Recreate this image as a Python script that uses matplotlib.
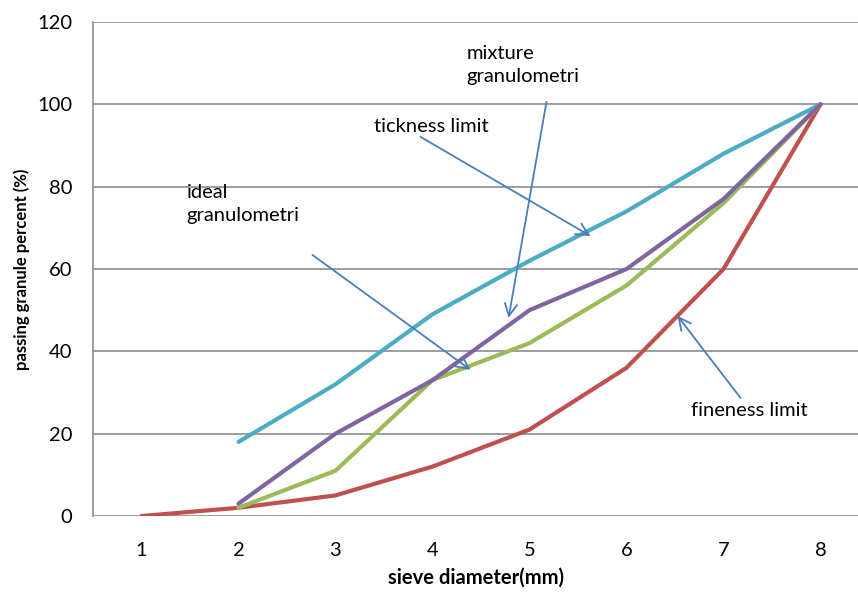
import matplotlib
matplotlib.use("Agg")
import matplotlib.pyplot as plt

plt.rcParams['font.family'] = ['Lato', 'DejaVu Sans']

# diámetro del tamiz (categorías del eje x)
sieve = [1, 2, 3, 4, 5, 6, 7, 8]

# curvas granulométricas (% que pasa)
fineness_x = [1, 2, 3, 4, 5, 6, 7, 8]
fineness = [0, 2, 5, 12, 21, 36, 60, 100]
ideal_x = [2, 3, 4, 5, 6, 7, 8]
ideal = [2, 11, 33, 42, 56, 76, 100]
mixture_x = [2, 3, 4, 5, 6, 7, 8]
mixture = [3, 20, 33, 50, 60, 77, 100]
thickness_x = [2, 3, 4, 5, 6, 7, 8]
thickness = [18, 32, 49, 62, 74, 88, 100]

yticks = [0, 20, 40, 60, 80, 100, 120]

fig = plt.figure(figsize=(8.58, 5.92), dpi=100)
ax = fig.add_axes([93 / 858, 1 - 516 / 592, (858 - 93) / 858, (516 - 22) / 592])

ax.plot(thickness_x, thickness, color='#4BACC6', lw=3, solid_capstyle='round', zorder=3)
ax.plot(fineness_x, fineness, color='#C0504D', lw=3, solid_capstyle='round', zorder=3)
ax.plot(ideal_x, ideal, color='#9BBB59', lw=3, solid_capstyle='round', zorder=3)
ax.plot(mixture_x, mixture, color='#8064A2', lw=3, solid_capstyle='round', zorder=4)

ax.set_xlim(0.5, 0.5 + (858 - 93) / 97)
ax.set_ylim(0, 120)
ax.set_xticks(sieve)
ax.set_yticks(yticks)
ax.tick_params(length=0, labelsize=14.5)
ax.tick_params(axis='y', pad=15)
ax.tick_params(axis='x', pad=19)
ax.grid(axis='y', color='#8c8c8c', lw=1.2)
ax.set_axisbelow(True)
for s in ['top', 'right', 'bottom']:
    ax.spines[s].set_visible(False)
ax.spines['left'].set_color('#8c8c8c')
ax.spines['left'].set_linewidth(1.2)

ax.set_xlabel('sieve diameter(mm)', fontsize=14.5, fontweight='bold', labelpad=6)
ax.set_ylabel('passing granule percent (%)', fontsize=12, fontweight='bold', labelpad=5)

# etiquetas con flechas
arrow = dict(arrowstyle='->', color='#4A7EBB', lw=1.3, mutation_scale=22, shrinkA=0, shrinkB=0)
notes = [
    ('mixture\ngranulometri', (4.35, 109.5), (5.175, 100.6), (4.784, 48.1)),
    ('tickness limit', (3.40, 94.7), (3.876, 92.1), (5.629, 68.0)),
    ('ideal\ngranulometri', (1.464, 75.8), (2.763, 63.4), (4.392, 35.5)),
    ('fineness limit', (6.67, 25.7), (7.175, 28.7), (6.526, 48.6)),
]
for txt, pos, tail, head in notes:
    ax.text(pos[0], pos[1], txt, fontsize=14.5, va='center', ha='left', linespacing=1.4, zorder=5)
    ax.annotate('', xy=head, xytext=tail, arrowprops=arrow, zorder=5)

fig.savefig('out.png', dpi=100)
